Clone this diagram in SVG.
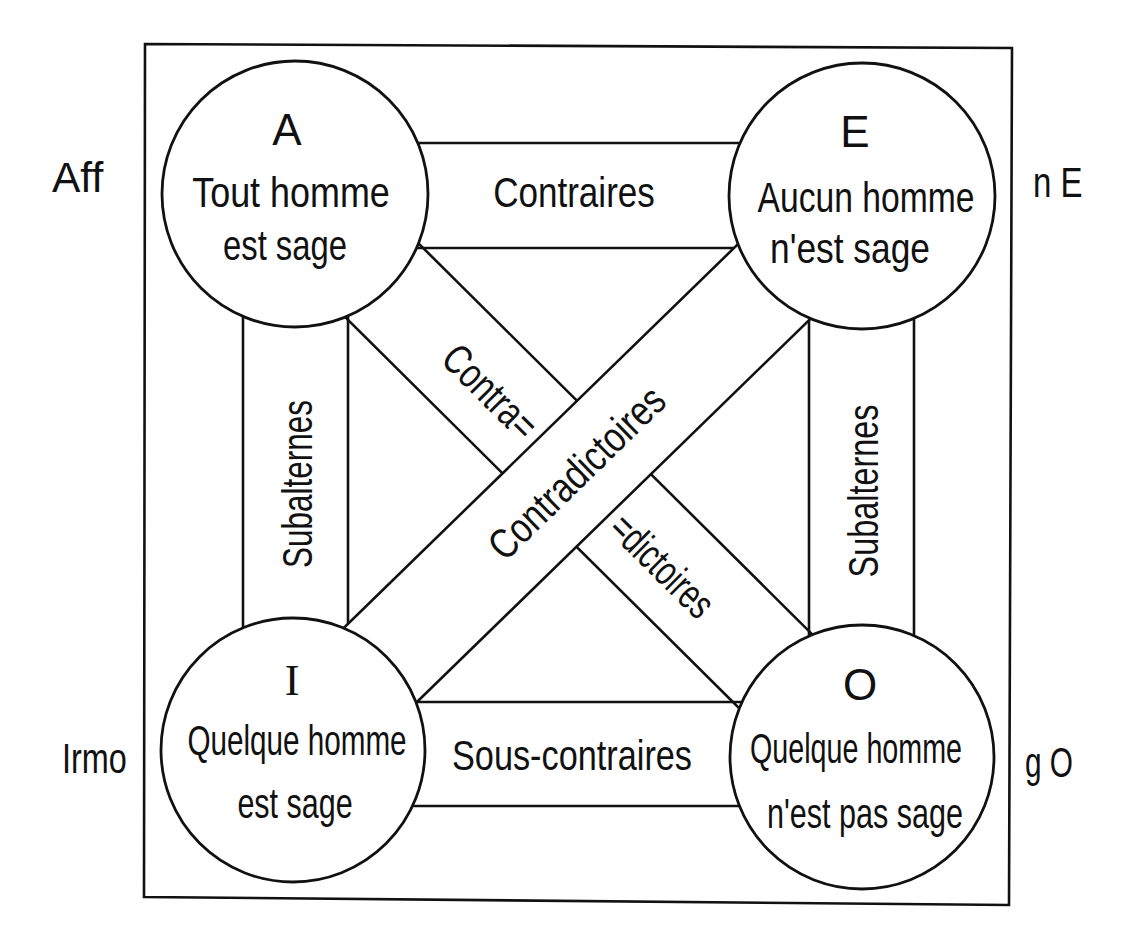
<svg xmlns="http://www.w3.org/2000/svg" width="1128" height="945" viewBox="0 0 1128 945">
<style>
.ln{stroke:#111;stroke-width:2.6;fill:none;stroke-linecap:round}
.nd{stroke:#111;stroke-width:2.8;fill:#fff}
.t{font-family:"Liberation Sans Narrow","Liberation Sans",Arial,sans-serif;font-size:42px;fill:#111}
.c{text-anchor:middle}
.big{font-size:44px}
.ser{font-family:"Liberation Serif","DejaVu Serif",serif;font-size:44px;fill:#111;text-anchor:middle}
</style>
<rect width="1128" height="945" fill="#fff"/>
<polygon class="ln" points="145,44 1012,48 1009,905 144,897"/>
<g id="connectors">
  <line class="ln" x1="295" y1="143" x2="862" y2="143"/>
  <line class="ln" x1="295" y1="248" x2="862" y2="248"/>
  <line class="ln" x1="293" y1="702" x2="862" y2="702"/>
  <line class="ln" x1="293" y1="806" x2="862" y2="806"/>
  <line class="ln" x1="243" y1="194" x2="243" y2="750"/>
  <line class="ln" x1="348" y1="194" x2="348" y2="750"/>
  <line class="ln" x1="809" y1="196" x2="809" y2="757"/>
  <line class="ln" x1="914" y1="196" x2="914" y2="757"/>
  <line class="ln" x1="331.6" y1="157.1" x2="898.6" y2="720.1"/>
  <line class="ln" x1="258.4" y1="230.9" x2="825.4" y2="793.9"/>
  <polygon points="256.7,712.7 825.7,158.7 898.3,233.3 329.3,787.3" fill="#fff" stroke="none"/>
  <line class="ln" x1="256.7" y1="712.7" x2="825.7" y2="158.7"/>
  <line class="ln" x1="329.3" y1="787.3" x2="898.3" y2="233.3"/>
  <text class="t c" transform="translate(574,207) scale(0.8,1)" textLength="202" lengthAdjust="spacingAndGlyphs">Contraires</text>
  <text class="t c" transform="translate(572,770) scale(0.8,1)" textLength="300" lengthAdjust="spacingAndGlyphs">Sous-contraires</text>
  <text class="t c" transform="translate(312,484) rotate(-90) scale(0.8,1)" textLength="210" lengthAdjust="spacingAndGlyphs">Subalternes</text>
  <text class="t c" transform="translate(878,491) rotate(-90) scale(0.8,1)" textLength="216" lengthAdjust="spacingAndGlyphs">Subalternes</text>
  <text class="t c" transform="translate(577,473) rotate(-44.2) scale(0.8,1)" y="14" textLength="285" lengthAdjust="spacingAndGlyphs">Contradictoires</text>
  <text class="t c" transform="translate(490,392) rotate(44.8) scale(0.8,1)" y="14" textLength="144" lengthAdjust="spacingAndGlyphs">Contra=</text>
  <text class="t c" transform="translate(662,566) rotate(44.8) scale(0.8,1)" y="14" textLength="160" lengthAdjust="spacingAndGlyphs">=dictoires</text>
</g>
<g id="node-A">
  <circle class="nd" cx="295" cy="194" r="133"/>
  <text class="t c big" x="287" y="145">A</text>
  <text class="t c" transform="translate(291,207) scale(0.8,1)" textLength="247" lengthAdjust="spacingAndGlyphs">Tout homme</text>
  <text class="t c" transform="translate(285,260) scale(0.8,1)" textLength="155" lengthAdjust="spacingAndGlyphs">est sage</text>
</g>
<g id="node-E">
  <circle class="nd" cx="862" cy="196" r="133"/>
  <text class="t c big" x="855" y="147">E</text>
  <text class="t c" transform="translate(866,212) scale(0.8,1)" textLength="271" lengthAdjust="spacingAndGlyphs">Aucun homme</text>
  <text class="t c" transform="translate(850,263) scale(0.8,1)" textLength="200" lengthAdjust="spacingAndGlyphs">n'est sage</text>
</g>
<g id="node-I">
  <circle class="nd" cx="293" cy="750" r="132"/>
  <text class="ser" x="292" y="695">I</text>
  <text class="t c" transform="translate(297,755) scale(0.8,1)" textLength="274" lengthAdjust="spacingAndGlyphs">Quelque homme</text>
  <text class="t c" transform="translate(295,818) scale(0.8,1)" textLength="144" lengthAdjust="spacingAndGlyphs">est sage</text>
</g>
<g id="node-O">
  <circle class="nd" cx="862" cy="757" r="132"/>
  <text class="t c big" x="860" y="700">O</text>
  <text class="t c" transform="translate(856,763) scale(0.8,1)" textLength="265" lengthAdjust="spacingAndGlyphs">Quelque homme</text>
  <text class="t c" transform="translate(865,828) scale(0.8,1)" textLength="245" lengthAdjust="spacingAndGlyphs">n'est pas sage</text>
</g>
<g id="side-labels">
  <text class="t" transform="translate(52,192) scale(0.8,1)" textLength="64" lengthAdjust="spacingAndGlyphs">Aff</text>
  <text class="t" transform="translate(62,773) scale(0.8,1)" textLength="81" lengthAdjust="spacingAndGlyphs">Irmo</text>
  <text class="t" transform="translate(1033,197) scale(0.8,1)" textLength="62" lengthAdjust="spacingAndGlyphs">n E</text>
  <text class="t" transform="translate(1025,777) scale(0.8,1)" textLength="60" lengthAdjust="spacingAndGlyphs">g O</text>
</g>
</svg>
